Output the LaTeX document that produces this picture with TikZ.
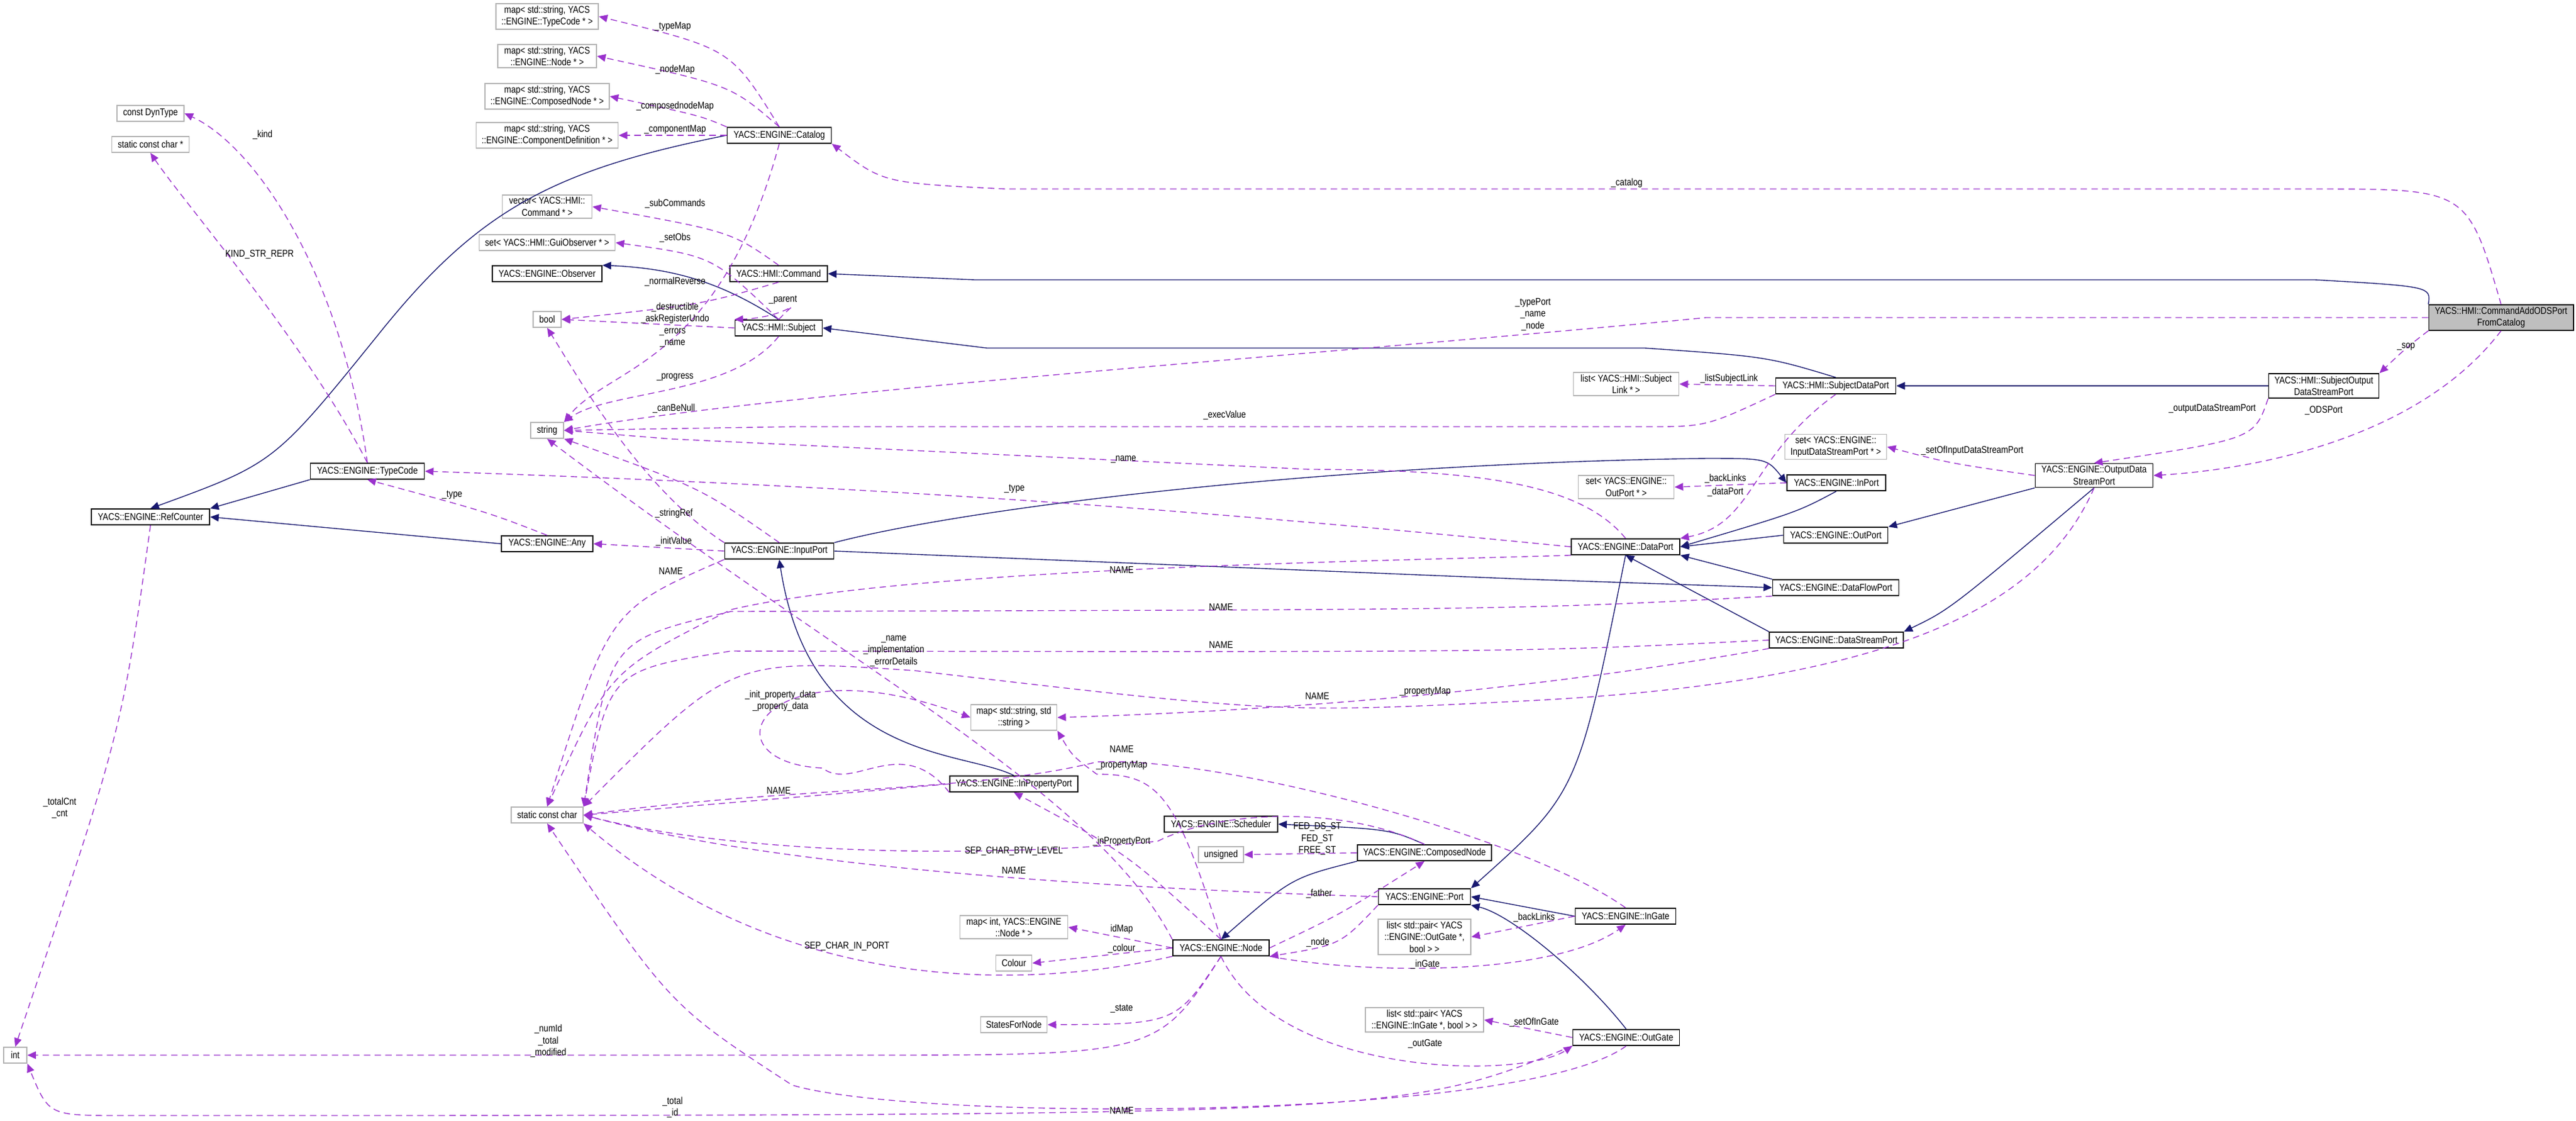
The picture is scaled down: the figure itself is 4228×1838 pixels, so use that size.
\documentclass[tikz,border=0pt]{standalone}
\usepackage{fontspec}
\setmainfont{Liberation Sans}[FakeStretch=0.84]
\usepackage{tikz}
\usetikzlibrary{arrows.meta}
\definecolor{inhcol}{HTML}{191970}
\definecolor{usecol}{HTML}{9A32CD}
\tikzset{
  cls/.style={draw=black, fill=white, line width=0.5pt, inner sep=1pt, font=\fontsize{4.6}{5.5}\selectfont, align=center, minimum height=0.26cm},
  ext/.style={cls, draw=gray!60},
  cur/.style={cls, fill=gray!50, minimum height=0.39cm},
  inh/.style={draw=inhcol, line width=0.4pt, -{Triangle[length=4pt,width=3.5pt]}},
  use/.style={draw=usecol, line width=0.4pt, dash pattern=on 3pt off 2pt, -{Triangle[length=4pt,width=3.5pt]}},
  lbl/.style={font=\fontsize{4.6}{5.5}\selectfont, align=center, inner sep=0pt}
}
\begin{document}
\begin{tikzpicture}[x=0.01cm, y=-0.01cm]
\useasboundingbox (0,0) rectangle (4228,1838);
% classes
\node[cur, minimum width=2.37cm] (cmdadd) at (4105,521) {YACS::HMI::CommandAddODSPort\\FromCatalog};
\node[ext, minimum width=1.68cm] (maptc) at (898,27) {map\textless{} std::string, YACS\\::ENGINE::TypeCode * \textgreater};
\node[ext, minimum width=1.62cm] (mapnode) at (898,92) {map\textless{} std::string, YACS\\::ENGINE::Node * \textgreater};
\node[ext, minimum width=2.04cm] (mapcn) at (898,158) {map\textless{} std::string, YACS\\::ENGINE::ComposedNode * \textgreater};
\node[ext, minimum width=2.33cm] (mapcd) at (898,222) {map\textless{} std::string, YACS\\::ENGINE::ComponentDefinition * \textgreater};
\node[cls, minimum width=1.71cm] (catalog) at (1279,222) {YACS::ENGINE::Catalog};
\node[ext, minimum width=1.1cm] (dyntype) at (247,186) {const DynType};
\node[ext, minimum width=1.27cm] (scharp) at (247,237) {static const char *};
\node[ext, minimum width=1.47cm] (veccmd) at (898,339) {vector\textless{} YACS::HMI::\\Command * \textgreater};
\node[ext, minimum width=2.23cm] (setobs) at (898,398) {set\textless{} YACS::HMI::GuiObserver * \textgreater};
\node[cls, minimum width=1.8cm] (observer) at (898,449) {YACS::ENGINE::Observer};
\node[cls, minimum width=1.6cm] (command) at (1278,449) {YACS::HMI::Command};
\node[ext, minimum width=0.46cm] (bool) at (898,524) {bool};
\node[cls, minimum width=1.43cm] (subject) at (1278,538) {YACS::HMI::Subject};
\node[ext, minimum width=0.54cm] (string) at (898,706) {string};
\node[cls, minimum width=1.87cm] (typecode) at (603,773) {YACS::ENGINE::TypeCode};
\node[cls, minimum width=1.94cm] (refcounter) at (247,848) {YACS::ENGINE::RefCounter};
\node[cls, minimum width=1.5cm] (any) at (898,892) {YACS::ENGINE::Any};
\node[cls, minimum width=1.79cm] (inputport) at (1279,904) {YACS::ENGINE::InputPort};
\node[ext, minimum width=1.73cm] (listlink) at (2669,630) {list\textless{} YACS::HMI::Subject\\Link * \textgreater};
\node[ext, minimum width=1.57cm] (setoutport) at (2669,799) {set\textless{} YACS::ENGINE::\\OutPort * \textgreater};
\node[cls, minimum width=1.78cm] (dataport) at (2668,897) {YACS::ENGINE::DataPort};
\node[cls, minimum width=1.97cm] (sdataport) at (3013,633) {YACS::HMI::SubjectDataPort};
\node[cls, minimum width=1.81cm, minimum height=0.4cm] (soutdsp) at (3814,633) {YACS::HMI::SubjectOutput\\DataStreamPort};
\node[ext, minimum width=1.67cm] (setindsp) at (3013,733) {set\textless{} YACS::ENGINE::\\InputDataStreamPort * \textgreater};
\node[cls, minimum width=1.93cm, minimum height=0.39cm] (outdsp) at (3437,780) {YACS::ENGINE::OutputData\\StreamPort};
\node[cls, minimum width=1.62cm] (inport) at (3014,792) {YACS::ENGINE::InPort};
\node[cls, minimum width=1.71cm] (outport) at (3013,878) {YACS::ENGINE::OutPort};
\node[cls, minimum width=2.07cm] (dataflow) at (3013,964) {YACS::ENGINE::DataFlowPort};
\node[cls, minimum width=2.2cm] (datastream) at (3014,1050) {YACS::ENGINE::DataStreamPort};
\node[ext, minimum width=1.18cm] (scchar) at (898,1337) {static const char};
\node[ext, minimum width=0.38cm] (int) at (25,1731) {int};
\node[ext, minimum width=1.41cm] (mapss) at (1664,1177) {map\textless{} std::string, std\\::string \textgreater};
\node[cls, minimum width=2.1cm] (inprop) at (1664,1286) {YACS::ENGINE::InPropertyPort};
\node[cls, minimum width=1.86cm] (scheduler) at (2004,1352) {YACS::ENGINE::Scheduler};
\node[ext, minimum width=0.74cm] (unsigned) at (2004,1402) {unsigned};
\node[cls, minimum width=2.2cm] (composed) at (2338,1399) {YACS::ENGINE::ComposedNode};
\node[cls, minimum width=1.51cm] (port) at (2338,1471) {YACS::ENGINE::Port};
\node[ext, minimum width=1.77cm] (mapint) at (1664,1521) {map\textless{} int, YACS::ENGINE\\::Node * \textgreater};
\node[cls, minimum width=1.65cm] (ingate) at (2668,1503) {YACS::ENGINE::InGate};
\node[ext, minimum width=1.52cm] (listog) at (2338,1537) {list\textless{} std::pair\textless{} YACS\\::ENGINE::OutGate *,\\bool \textgreater{} \textgreater};
\node[cls, minimum width=1.58cm] (node) at (2004,1555) {YACS::ENGINE::Node};
\node[ext, minimum width=0.59cm] (colour) at (1664,1580) {Colour};
\node[ext, minimum width=1.09cm] (states) at (1664,1681) {StatesForNode};
\node[ext, minimum width=1.94cm] (listig) at (2338,1673) {list\textless{} std::pair\textless{} YACS\\::ENGINE::InGate *, bool \textgreater{} \textgreater};
\node[cls, minimum width=1.75cm] (outgate) at (2669,1702) {YACS::ENGINE::OutGate};
% inheritance
\draw[inh] (catalog.west) .. controls (900,280) and (780,350) .. (620,550) .. controls (450,760) .. (refcounter.north);
\draw[inh] (typecode.south west) -- (refcounter.north east);
\draw[inh] (any.west) -- (refcounter.east);
\draw[inh] (subject.north) .. controls (1180,460) and (1100,440) .. (observer.north east);
\draw[inh] (cmdadd.north west) .. controls (3990,470) .. (3800,459) -- (1600,459) -- (command.east);
\draw[inh] (sdataport.north) .. controls (2900,585) .. (2700,571) -- (1620,571) -- (subject.east);
\draw[inh] (soutdsp.west) -- (sdataport.east);
\draw[inh] (inputport.north east) .. controls (1600,830) and (2200,760) .. (2800,752) .. controls (2900,752) .. (inport.west);
\draw[inh] (inport.south) .. controls (2950,840) .. (dataport.east);
\draw[inh] (outport.west) -- (dataport.east);
\draw[inh] (inputport.east) -- (2500,950) -- (dataflow.west);
\draw[inh] (dataflow.north west) -- (dataport.south east);
\draw[inh] (datastream.north west) -- (dataport.south);
\draw[inh] (outdsp.south west) -- (outport.north east);
\draw[inh] (outdsp.south) .. controls (3200,1000) .. (datastream.north east);
\draw[inh] (dataport.south) .. controls (2590,1300) .. (port.north east);
\draw[inh] (inprop.north) .. controls (1580,1230) and (1330,1250) .. (inputport.south);
\draw[inh] (composed.north) .. controls (2280,1360) .. (scheduler.east);
\draw[inh] (composed.south west) .. controls (2120,1440) .. (node.north);
\draw[inh] (ingate.west) -- (port.east);
\draw[inh] (outgate.north) .. controls (2600,1600) and (2480,1500) .. (port.south east);
% usage
\draw[use] (catalog.north) .. controls (1200,80) .. (maptc.east);
\draw[use] (catalog.north) .. controls (1200,140) .. (mapnode.east);
\draw[use] (catalog.north west) .. controls (1150,190) .. (mapcn.east);
\draw[use] (catalog.west) -- (mapcd.east);
\draw[use] (catalog.south) .. controls (1180,600) and (1000,600) .. (string.north east);
\draw[use] (typecode.north) .. controls (560,450) and (420,240) .. (dyntype.east);
\draw[use] (typecode.north) .. controls (500,560) and (300,330) .. (scharp.south);
\draw[use] (command.south) .. controls (1150,500) .. (bool.east);
\draw[use] (command.north) .. controls (1200,380) .. (veccmd.east);
\draw[use] (subject.north) .. controls (1170,420) .. (setobs.east);
\draw[use] (subject.west) -- (bool.east);
\draw[use] (subject.north) .. controls (1320,480) and (1300,520) .. (subject.north west);
\draw[use] (subject.south) .. controls (1200,650) and (1000,640) .. (string.north east);
\draw[use] (cmdadd.north) .. controls (4050,310) .. (3800,310) -- (1650,310) .. controls (1450,300) .. (catalog.south east);
\draw[use] (cmdadd.west) -- (2800,521) .. controls (2200,580) and (1300,640) .. (string.east);
\draw[use] (cmdadd.south west) .. controls (3950,570) .. (soutdsp.north east);
\draw[use] (cmdadd.south) .. controls (3970,720) and (3700,770) .. (outdsp.east);
\draw[use] (soutdsp.south west) .. controls (3700,720) .. (outdsp.north);
\draw[use] (outdsp.west) .. controls (3200,760) .. (setindsp.east);
\draw[use] (sdataport.west) -- (listlink.east);
\draw[use] (sdataport.south west) .. controls (2800,700) .. (2700,700) -- (1300,700) -- (string.east);
\draw[use] (sdataport.south) .. controls (2870,750) and (2880,860) .. (dataport.north east);
\draw[use] (inport.west) -- (setoutport.east);
\draw[use] (dataport.north) .. controls (2600,800) and (2450,770) .. (2150,770) -- (1100,720) -- (string.east);
\draw[use] (dataport.west) .. controls (2000,840) and (1500,800) .. (typecode.east);
\draw[use] (dataport.south west) .. controls (2300,920) and (1500,930) .. (1200,1000) .. controls (1000,1100) .. (scchar.north);
\draw[use] (inputport.north) .. controls (1150,800) .. (string.south east);
\draw[use] (inputport.north west) .. controls (1050,800) and (950,620) .. (bool.south);
\draw[use] (inputport.west) -- (any.east);
\draw[use] (any.north) .. controls (800,840) .. (typecode.south);
\draw[use] (inputport.south west) .. controls (1000,1000) .. (scchar.north);
\draw[use] (dataflow.south west) .. controls (2500,1000) .. (1200,1003) .. controls (1000,1050) .. (scchar.north east);
\draw[use] (datastream.west) .. controls (2500,1070) .. (1200,1068) .. controls (1000,1100) .. (scchar.north east);
\draw[use] (datastream.south west) .. controls (2700,1100) and (2300,1160) .. (mapss.east);
\draw[use] (outdsp.south) .. controls (3350,1000) and (3100,1120) .. (2500,1150) .. controls (2100,1170) .. (1500,1100) .. controls (1200,1080) .. (scchar.north east);
\draw[use] (inprop.west) .. controls (1400,1300) .. (scchar.east);
\draw[use] (inprop.south west) .. controls (1480,1200) and (1400,1300) .. (1350,1260) .. controls (1150,1250) and (1250,1050) .. (mapss.west);
\draw[use] (node.north) .. controls (1930,1300) and (1900,1270) .. (1800,1270) .. controls (1760,1240) .. (mapss.south east);
\draw[use] (node.north west) .. controls (1800,1300) and (1400,1100) .. (string.south);
\draw[use] (node.north) .. controls (1850,1400) .. (inprop.south);
\draw[use] (node.south west) .. controls (1700,1620) and (1300,1640) .. (scchar.south east);
\draw[use] (node.west) -- (mapint.east);
\draw[use] (node.west) -- (colour.east);
\draw[use] (node.south) .. controls (1930,1680) .. (states.east);
\draw[use] (node.east) .. controls (2200,1500) .. (composed.south);
\draw[use] (node.south east) .. controls (2250,1600) and (2550,1600) .. (ingate.south);
\draw[use] (node.south) .. controls (2100,1770) and (2500,1770) .. (outgate.south west);
\draw[use] (node.south) .. controls (1900,1731) .. (1400,1731) -- (int.east);
\draw[use] (composed.west) -- (unsigned.east);
\draw[use] (composed.north) .. controls (2200,1320) and (2000,1330) .. (1900,1380) .. controls (1600,1410) and (1200,1400) .. (scchar.east);
\draw[use] (port.west) .. controls (1900,1460) and (1300,1430) .. (scchar.east);
\draw[use] (port.south west) .. controls (2200,1550) .. (node.south east);
\draw[use] (ingate.north) .. controls (2500,1370) and (2000,1240) .. (1800,1250) .. controls (1600,1300) and (1300,1290) .. (scchar.east);
\draw[use] (ingate.west) -- (listog.east);
\draw[use] (outgate.west) -- (listig.east);
\draw[use] (outgate.south) .. controls (2500,1840) and (1500,1840) .. (1300,1780) .. controls (1100,1650) .. (scchar.south);
\draw[use] (outgate.south west) .. controls (2300,1830) .. (200,1830) .. controls (80,1830) .. (int.south east);
\draw[use] (refcounter.south) .. controls (200,1200) .. (int.north);
% labels
\node[lbl] (ltypemap) at (1104,44) {\_typeMap};
\node[lbl] (lnodemap) at (1108,114) {\_nodeMap};
\node[lbl] (lcnmap) at (1108,174) {\_composednodeMap};
\node[lbl] (lcompmap) at (1108,213) {\_componentMap};
\node[lbl] (lkind) at (431,221) {\_kind};
\node[lbl] (lkindstr) at (426,417) {KIND\_STR\_REPR};
\node[lbl] (lsubcmd) at (1108,334) {\_subCommands};
\node[lbl] (lsetobs) at (1108,390) {\_setObs};
\node[lbl] (lnormrev) at (1108,462) {\_normalReverse};
\node[lbl] (lparent) at (1285,492) {\_parent};
\node[lbl] (ldestr) at (1108,514) {\_destructible\\\_askRegisterUndo};
\node[lbl] (lerrors) at (1104,554) {\_errors\\\_name};
\node[lbl] (lprogress) at (1108,619) {\_progress};
\node[lbl] (lcanbenull) at (1106,670) {\_canBeNull};
\node[lbl] (ltype) at (742,812) {\_type};
\node[lbl] (lstringref) at (1106,842) {\_stringRef};
\node[lbl] (linitval) at (1106,888) {\_initValue};
\node[lbl] (lnameany) at (1101,937) {NAME};
\node[lbl] (lcatalog) at (2670,300) {\_catalog};
\node[lbl] (ltypeport) at (2516,516) {\_typePort\\\_name\\\_node};
\node[lbl] (lexec) at (2010,681) {\_execValue};
\node[lbl] (lname) at (1844,754) {\_name};
\node[lbl] (ltypedp) at (1665,802) {\_type};
\node[lbl] (lnamedp) at (1841,935) {NAME};
\node[lbl] (lsop) at (3949,569) {\_sop};
\node[lbl] (lodsp) at (3631,671) {\_outputDataStreamPort};
\node[lbl] (lodsport) at (3814,673) {\_ODSPort};
\node[lbl] (lsetinds) at (3237,739) {\_setOfInputDataStreamPort};
\node[lbl] (llistlink) at (2838,621) {\_listSubjectLink};
\node[lbl] (lbacklinks) at (2832,785) {\_backLinks};
\node[lbl] (ldataport) at (2832,807) {\_dataPort};
\node[lbl] (ltotalcnt) at (98,1326) {\_totalCnt\\\_cnt};
\node[lbl] (linitprop) at (1281,1150) {\_init\_property\_data\\\_property\_data};
\node[lbl] (lnameip) at (1278,1297) {NAME};
\node[lbl] (lnumid) at (900,1708) {\_numId\\\_total\\\_modified};
\node[lbl] (ltotalid) at (1104,1817) {\_total\\\_id};
\node[lbl] (lnamedf) at (2004,996) {NAME};
\node[lbl] (lnameimpl) at (1467,1068) {\_name\\\_implementation\\\_errorDetails};
\node[lbl] (lnameds) at (2004,1058) {NAME};
\node[lbl] (lnameods) at (2162,1142) {NAME};
\node[lbl] (lpropmap) at (2339,1135) {\_propertyMap};
\node[lbl] (lnameig) at (1841,1229) {NAME};
\node[lbl] (lpropmapn) at (1841,1256) {\_propertyMap};
\node[lbl] (lfed) at (2162,1376) {FED\_DS\_ST\\FED\_ST\\FREE\_ST};
\node[lbl] (linprop) at (1841,1380) {\_inPropertyPort};
\node[lbl] (lsepbtw) at (1664,1396) {SEP\_CHAR\_BTW\_LEVEL};
\node[lbl] (lnameport) at (1664,1428) {NAME};
\node[lbl] (lfather) at (2165,1466) {\_father};
\node[lbl] (lbacklinksig) at (2518,1505) {\_backLinks};
\node[lbl] (lidmap) at (1841,1524) {idMap};
\node[lbl] (lsepport) at (1390,1552) {SEP\_CHAR\_IN\_PORT};
\node[lbl] (lnode) at (2163,1546) {\_node};
\node[lbl] (lcolour) at (1841,1556) {\_colour};
\node[lbl] (lingate) at (2339,1582) {\_inGate};
\node[lbl] (lstate) at (1841,1655) {\_state};
\node[lbl] (lsetofin) at (2518,1677) {\_setOfInGate};
\node[lbl] (loutgate) at (2339,1712) {\_outGate};
\node[lbl] (lnameog) at (1841,1822) {NAME};
\end{tikzpicture}
\end{document}
